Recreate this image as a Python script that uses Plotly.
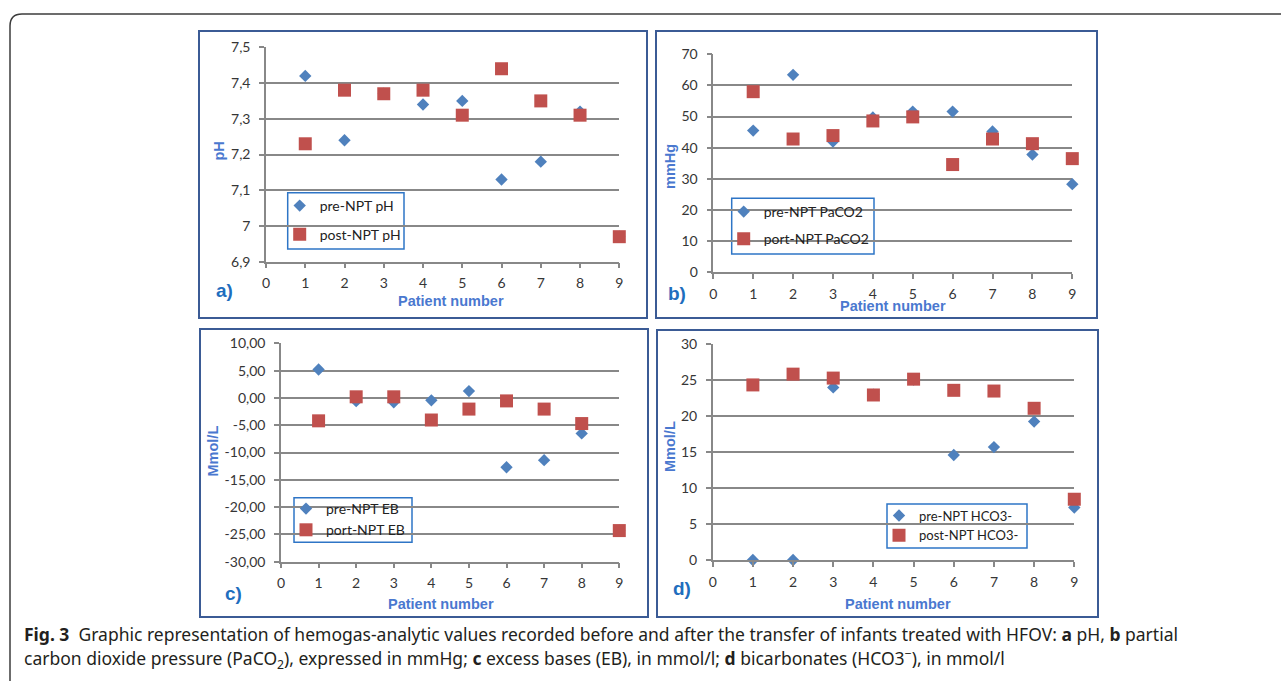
import plotly.graph_objects as go

W, H = 1281, 681

patients = [1, 2, 3, 4, 5, 6, 7, 8, 9]

ph_pre = [7.42, 7.24, 7.37, 7.34, 7.35, 7.13, 7.18, 7.32, 6.97]
ph_post = [7.23, 7.38, 7.37, 7.38, 7.31, 7.44, 7.35, 7.31, 6.97]

paco2_pre = [45.5, 63.4, 42.0, 49.7, 51.6, 51.6, 45.2, 37.8, 28.3]
paco2_post = [58.0, 42.8, 43.9, 48.6, 49.9, 34.6, 42.8, 41.3, 36.5]

eb_pre = [5.2, -0.6, -0.8, -0.45, 1.25, -12.7, -11.4, -6.5, -24.3]
eb_post = [-4.2, 0.2, 0.2, -4.05, -2.05, -0.55, -2.05, -4.7, -24.3]

hco3_pre = [0, 0, 24.0, 23.0, 25.1, 14.6, 15.7, 19.25, 7.3]
hco3_post = [24.35, 25.85, 25.3, 22.95, 25.15, 23.6, 23.5, 21.1, 8.45]

x_ticks = [0, 1, 2, 3, 4, 5, 6, 7, 8, 9]
ph_ticks = [6.9, 7.0, 7.1, 7.2, 7.3, 7.4, 7.5]
ph_labels = ["6,9", "7", "7,1", "7,2", "7,3", "7,4", "7,5"]
paco2_ticks = [0, 10, 20, 30, 40, 50, 60, 70]
paco2_labels = ["0", "10", "20", "30", "40", "50", "60", "70"]
eb_ticks = [-30, -25, -20, -15, -10, -5, 0, 5, 10]
eb_labels = ["-30,00", "-25,00", "-20,00", "-15,00", "-10,00", "-5,00", "0,00", "5,00", "10,00"]
hco3_ticks = [0, 5, 10, 15, 20, 25, 30]
hco3_labels = ["0", "5", "10", "15", "20", "25", "30"]

BLUE = "#4F81BD"
RED = "#C0504D"
GRID = "#888888"
TITLE_BLUE = "#4A78CF"
LABEL_BLUE = "#1F6EBE"
FRAME = "#3B5B95"
LEG_BORDER = "#2E75C6"


def X(px):
    return px / W


def Y(py):
    return 1 - py / H


panels = [
    dict(name="a", xd=(266, 619.3), yd=(47.3, 261.7), yr=(6.9, 7.5), tv=ph_ticks, tt=ph_labels,
         pre=ph_pre, post=ph_post, pre_name="pre-NPT pH", post_name="post-NPT pH",
         legend="legend", box=(287.7, 192.7, 404, 249), ltop=190, lgap=7.5, lfs=14),
    dict(name="b", xd=(713.3, 1072.3), yd=(54.3, 272.3), yr=(0, 70), tv=paco2_ticks, tt=paco2_labels,
         pre=paco2_pre, post=paco2_post, pre_name="pre-NPT PaCO2", post_name="port-NPT PaCO2",
         legend="legend2", box=(731.7, 198.3, 874, 254), ltop=196, lgap=6, lfs=14),
    dict(name="c", xd=(281, 619.3), yd=(343.3, 561.7), yr=(-30, 10), tv=eb_ticks, tt=eb_labels,
         pre=eb_pre, post=eb_post, pre_name="pre-NPT EB", post_name="port-NPT EB",
         legend="legend3", box=(294, 497.7, 412, 542.3), ltop=493, lgap=0, lfs=14),
    dict(name="d", xd=(712.7, 1074.3), yd=(344.3, 560), yr=(0, 30), tv=hco3_ticks, tt=hco3_labels,
         pre=hco3_pre, post=hco3_post, pre_name="pre-NPT HCO3-", post_name="post-NPT HCO3-",
         legend="legend4", box=(887, 504, 1027, 548), ltop=500.5, lgap=0, lfs=13),
]

fig = go.Figure()
layout = {}
shapes = []
for i, p in enumerate(panels):
    idx = "" if i == 0 else str(i + 1)
    xa, ya = "x" + idx, "y" + idx
    fig.add_trace(go.Scatter(x=patients, y=p["pre"], mode="markers", name=p["pre_name"],
                             xaxis=xa, yaxis=ya, legend=p["legend"], legendgroup=p["name"] + "pre",
                             marker=dict(symbol="diamond", size=9.5, color=BLUE, line=dict(width=0)),
                             cliponaxis=False))
    fig.add_trace(go.Scatter(x=patients, y=p["post"], mode="markers", name=p["post_name"],
                             xaxis=xa, yaxis=ya, legend=p["legend"], legendgroup=p["name"] + "post",
                             marker=dict(symbol="square", size=13, color=RED, line=dict(width=0)),
                             cliponaxis=False))
    layout["xaxis" + idx] = dict(
        domain=[X(p["xd"][0]), X(p["xd"][1])], range=[0, 9], tickvals=x_ticks,
        ticktext=[str(v) for v in x_ticks], anchor=ya, automargin=False,
        showgrid=False, zeroline=False, showline=True, linecolor=GRID, linewidth=1.5,
        ticks="outside", ticklen=5, tickcolor=GRID, tickwidth=1.5,
        tickfont=dict(family="Lato", size=14, color="#363636"), ticklabelstandoff=3)
    layout["yaxis" + idx] = dict(
        domain=[Y(p["yd"][1]), Y(p["yd"][0])], range=list(p["yr"]), tickvals=p["tv"],
        ticktext=p["tt"], anchor=xa, automargin=False,
        showgrid=True, gridcolor=GRID, gridwidth=1.5, zeroline=False,
        showline=True, linecolor=GRID, linewidth=1.5,
        ticks="outside", ticklen=5, tickcolor=GRID, tickwidth=1.5,
        tickfont=dict(family="Lato", size=14, color="#363636"), ticklabelstandoff=6)
    bx0, by0, bx1, by1 = p["box"]
    layout[p["legend"]] = dict(
        x=X(bx0 - 8), y=Y(p["ltop"]), xanchor="left", yanchor="top",
        borderwidth=0, bgcolor="rgba(0,0,0,0)",
        font=dict(family="Lato", size=p["lfs"], color="#222222"),
        traceorder="grouped", tracegroupgap=p["lgap"], itemsizing="trace")
    shapes.append(dict(type="rect", xref="paper", yref="paper", layer="below",
                       x0=X(bx0), x1=X(bx1), y0=Y(by0), y1=Y(by1),
                       fillcolor="white", line=dict(color=LEG_BORDER, width=1.5)))

fig.update_layout(**layout)

annotations = []
# panel labels
for txt, (px, py) in zip(["a)", "b)", "c)", "d)"],
                         [(224.5, 290), (677, 293.5), (233.5, 593.5), (682, 588.5)]):
    annotations.append(dict(text="<b>" + txt + "</b>", x=X(px), y=Y(py), xref="paper", yref="paper",
                            showarrow=False, xanchor="center", yanchor="middle",
                            font=dict(family="Liberation Sans", size=19, color=LABEL_BLUE)))
# x titles
for (px, py) in [(451, 300.5), (893, 305.5), (441, 603.5), (898, 603.5)]:
    annotations.append(dict(text="<b>Patient number</b>", x=X(px), y=Y(py), xref="paper", yref="paper",
                            showarrow=False, xanchor="center", yanchor="middle",
                            font=dict(family="Liberation Sans", size=14.5, color=TITLE_BLUE)))
# y titles
for txt, (px, py) in zip(["pH", "mmHg", "Mmol/L", "Mmol/L"],
                         [(218, 151.5), (669.5, 166.5), (212, 451.5), (669.5, 446.5)]):
    annotations.append(dict(text="<b>" + txt + "</b>", x=X(px), y=Y(py), xref="paper", yref="paper",
                            showarrow=False, xanchor="center", yanchor="middle", textangle=-90,
                            font=dict(family="Liberation Sans", size=14.5, color=TITLE_BLUE)))
# caption
cap1 = ("<b>Fig. 3</b>  Graphic representation of hemogas-analytic values recorded before and after the "
        "transfer of infants treated with HFOV: <b>a</b> pH, <b>b</b> partial")
cap2 = ("carbon dioxide pressure (PaCO<sub>2</sub>), expressed in mmHg; <b>c</b> excess bases (EB), "
        "in mmol/l; <b>d</b> bicarbonates (HCO3<sup>−</sup>), in mmol/l")
for txt, py in [(cap1, 634), (cap2, 659)]:
    annotations.append(dict(text=txt, x=X(22), y=Y(py), xref="paper", yref="paper",
                            showarrow=False, xanchor="left", yanchor="middle", align="left",
                            font=dict(family="Noto Sans", size=17.5, color="#231F20")))

# panel frames
for (x0, y0, x1, y1) in [(199, 31, 647, 318), (656, 31, 1097, 318),
                         (200, 329, 648, 617), (657, 330, 1098, 617)]:
    shapes.append(dict(type="rect", xref="paper", yref="paper", x0=X(x0), x1=X(x1), y0=Y(y0), y1=Y(y1),
                       line=dict(color=FRAME, width=2)))
# outer rounded frame
r = 12
path = (f"M {X(10)},{Y(690)} L {X(10)},{Y(14 + r)} Q {X(10)},{Y(14)} {X(10 + r)},{Y(14)} "
        f"L {X(1290)},{Y(14)}")
shapes.append(dict(type="path", xref="paper", yref="paper", path=path,
                   line=dict(color="#3C3C3C", width=1.5)))

fig.update_layout(width=W, height=H, margin=dict(l=0, r=0, t=0, b=0, autoexpand=False),
                  paper_bgcolor="white", plot_bgcolor="white",
                  annotations=annotations, shapes=shapes)

fig.write_html("out.html", config={"displayModeBar": False},
               post_script="document.body.style.margin='0px';document.body.style.overflow='hidden';")
